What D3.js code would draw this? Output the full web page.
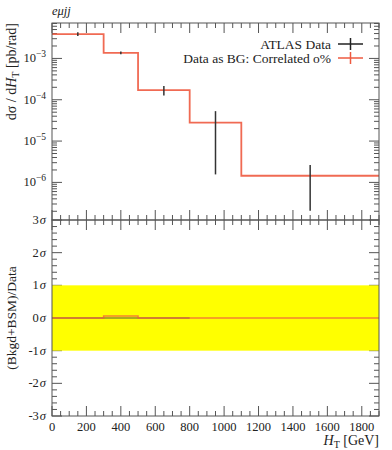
<!DOCTYPE html>
<html><head><meta charset="utf-8">
<script src="https://cdn.jsdelivr.net/npm/d3@7"></script>
<style>body{margin:0;background:#fff}svg{display:block}text{font-family:"Liberation Serif","DejaVu Serif",serif;fill:#222}</style>
</head><body><svg id="c" width="392" height="450"></svg>
<script>
// ---- data ----
const binEdges = [0, 300, 500, 800, 1100, 1900];
const bgValues = [3.87e-3, 1.37e-3, 1.71e-4, 2.79e-5, 1.45e-6];
const dataX = [150, 400, 650, 950, 1500];
const dataY = [3.87e-3, 1.37e-3, 1.71e-4, 2.79e-5, 1.45e-6];
const dataHi = [4.3e-3, 1.47e-3, 2.16e-4, 5.3e-5, 2.62e-6];
const dataLo = [3.5e-3, 1.27e-3, 1.26e-4, 1.56e-6, 2.05e-7];
const ratioValues = [0.0, 0.06, 0.0, 0.0, 0.0];
const ratioDataEdges = [0, 800];
const xTicks = [0, 200, 400, 600, 800, 1000, 1200, 1400, 1600, 1800];
const yDecades = [-3, -4, -5, -6];
const sigmaTicks = [3, 2, 1, 0, -1, -2, -3];
const legendLabels = ["ATLAS Data", "Data as BG: Correlated o%"];

const svg = d3.select("#c");
const L = 52, R = 379, T = 23, M = 220, B = 416;
const x = d3.scaleLinear().domain([0, 1900]).range([L, R]);
const y = d3.scaleLog().domain([1.23e-7, 7.2e-3]).range([M, T]);
const yr = d3.scaleLinear().domain([-3, 3]).range([B, M]);
const red = "#ee5a40";
const axC = "#555";

// x ticks (major/minor)
const xMinor = d3.range(0, 1901, 50).filter(v => v % 200 !== 0);
function xTickMarks(yPos, dir) {
  const g = svg.append("g").attr("stroke", axC).attr("stroke-width", 1);
  xTicks.forEach(v => g.append("line").attr("x1", x(v)).attr("x2", x(v)).attr("y1", yPos).attr("y2", yPos + dir * 10));
  xMinor.forEach(v => g.append("line").attr("x1", x(v)).attr("x2", x(v)).attr("y1", yPos).attr("y2", yPos + dir * 5));
}
xTickMarks(T, 1); xTickMarks(M, -1); xTickMarks(M, 1); xTickMarks(B, -1);

// log y ticks
const gy = svg.append("g").attr("stroke", axC);
for (let e = -7; e <= -2; e++) {
  for (let k = 1; k <= 9; k++) {
    const v = k * Math.pow(10, e);
    if (v < y.domain()[0] || v > y.domain()[1]) continue;
    const len = k === 1 ? 10 : 5;
    gy.append("line").attr("x1", L).attr("x2", L + len).attr("y1", y(v)).attr("y2", y(v));
    gy.append("line").attr("x1", R).attr("x2", R - len).attr("y1", y(v)).attr("y2", y(v));
  }
}
yDecades.forEach(e => {
  const t = svg.append("text").attr("x", L - 6).attr("y", y(Math.pow(10, e)) + 4).attr("text-anchor", "end").attr("font-size", 12.5);
  t.append("tspan").text("10");
  t.append("tspan").attr("dy", -5).attr("font-size", 9.5).text("\u2212" + (-e));
});

// sigma ticks
const gs = svg.append("g").attr("stroke", axC);
d3.range(-3, 3.001, 0.2).forEach(v => {
  const maj = Math.abs(v - Math.round(v)) < 1e-6;
  const len = maj ? 10 : 5;
  gs.append("line").attr("x1", L).attr("x2", L + len).attr("y1", yr(v)).attr("y2", yr(v));
  gs.append("line").attr("x1", R).attr("x2", R - len).attr("y1", yr(v)).attr("y2", yr(v));
});

// yellow band
svg.append("rect").attr("x", L).attr("width", R - L).attr("y", yr(1)).attr("height", yr(-1) - yr(1)).attr("fill", "#ffff00");

sigmaTicks.forEach(v => {
  const t = svg.append("text").attr("x", L - 6).attr("y", yr(v) + 4).attr("text-anchor", "end").attr("font-size", 12.5);
  t.append("tspan").text(v < 0 ? "-" + (-v) : String(v));
  t.append("tspan").attr("font-style", "italic").attr("dx", 1).text("\u03c3");
});

// x tick labels
xTicks.forEach(v => svg.append("text").attr("x", x(v)).attr("y", B + 15).attr("text-anchor", "middle").attr("font-size", 12.5).text(v));

function stepPts(edges, vals) {
  const pts = [];
  vals.forEach((v, i) => { pts.push([edges[i], v]); pts.push([edges[i + 1], v]); });
  return pts;
}
const lineU = d3.line().x(d => x(d[0])).y(d => y(d[1]));
svg.append("path").attr("d", lineU(stepPts(binEdges, bgValues))).attr("fill", "none").attr("stroke", red).attr("stroke-width", 1.8).attr("stroke-opacity", 0.9);

dataX.forEach((xv, i) => {
  svg.append("line").attr("x1", x(xv)).attr("x2", x(xv)).attr("y1", y(dataHi[i])).attr("y2", y(dataLo[i])).attr("stroke", "#333").attr("stroke-width", 1.5);
});

const lineR = d3.line().x(d => x(d[0])).y(d => yr(d[1]));
svg.append("line").attr("x1", x(ratioDataEdges[0])).attr("x2", x(ratioDataEdges[1])).attr("y1", yr(0)).attr("y2", yr(0)).attr("stroke", "#444").attr("stroke-width", 1.5).attr("stroke-opacity", 0.6);
svg.append("path").attr("d", lineR(stepPts(binEdges, ratioValues))).attr("fill", "none").attr("stroke", red).attr("stroke-width", 1.5).attr("stroke-opacity", 0.75);

svg.append("rect").attr("x", L).attr("y", T).attr("width", R - L).attr("height", M - T).attr("fill", "none").attr("stroke", axC);
svg.append("rect").attr("x", L).attr("y", M).attr("width", R - L).attr("height", B - M).attr("fill", "none").attr("stroke", axC);

// legend
const legY = [44, 58];
const lx1 = 338, lx2 = 363, lxc = 350.5;
legendLabels.forEach((lab, i) => {
  svg.append("text").attr("x", 331).attr("y", legY[i] + 4.5).attr("text-anchor", "end").attr("font-size", 13.5).text(lab);
  const col = i === 0 ? "#222" : red;
  svg.append("line").attr("x1", lx1).attr("x2", lx2).attr("y1", legY[i]).attr("y2", legY[i]).attr("stroke", col).attr("stroke-width", 1.5);
  svg.append("line").attr("x1", lxc).attr("x2", lxc).attr("y1", legY[i] - 6).attr("y2", legY[i] + 6).attr("stroke", col).attr("stroke-width", 1.5);
});

svg.append("text").attr("x", L).attr("y", 15).attr("font-size", 12.5).attr("font-style", "italic").text("e\u03bcjj");

const yl = svg.append("text").attr("transform", `translate(16,${T}) rotate(-90)`).attr("text-anchor", "end").attr("font-size", 14);
yl.append("tspan").text("d\u03c3 / d");
yl.append("tspan").attr("font-style", "italic").text("H");
yl.append("tspan").attr("font-size", 10).attr("dy", 3).text("T");
yl.append("tspan").attr("dy", -3).text(" [pb/rad]");

svg.append("text").attr("transform", `translate(16,${yr(0)}) rotate(-90)`).attr("text-anchor", "middle").attr("font-size", 13.5).text("(Bkgd+BSM)/Data");

const xl = svg.append("text").attr("x", R).attr("y", 445).attr("text-anchor", "end").attr("font-size", 14);
xl.append("tspan").attr("font-style", "italic").text("H");
xl.append("tspan").attr("font-size", 10).attr("dy", 3).text("T");
xl.append("tspan").attr("dy", -3).text(" [GeV]");
</script></body></html>
